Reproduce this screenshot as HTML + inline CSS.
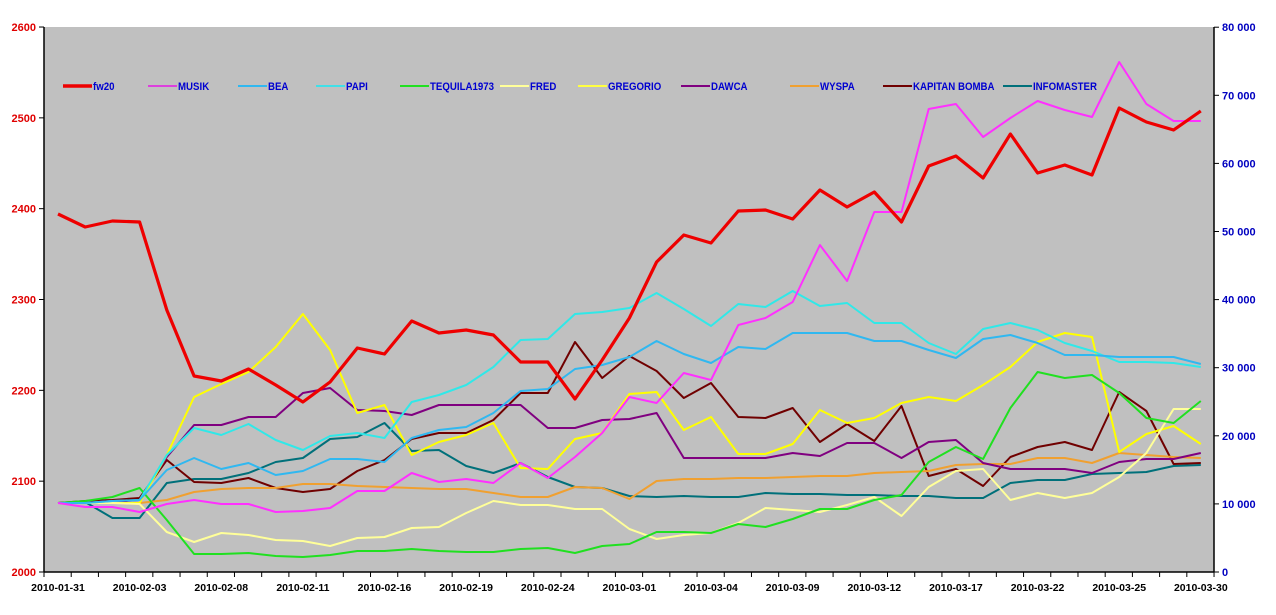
<!DOCTYPE html>
<html><head><meta charset="utf-8"><style>
html,body{margin:0;padding:0;background:#fff;width:1276px;height:615px;overflow:hidden}
svg{display:block;font-family:"Liberation Sans",Arial,sans-serif}
</style></head><body>
<svg id="s" width="1276" height="615" xmlns="http://www.w3.org/2000/svg">
<rect x="44" y="27" width="1170" height="545" fill="#c0c0c0"/>
<g id="g"></g>
</svg>
<script>
const S=document.getElementById('s'),G=document.getElementById('g');
const NS='http://www.w3.org/2000/svg';
function el(t,a,txt){const e=document.createElementNS(NS,t);for(const k in a)e.setAttribute(k,a[k]);if(txt!=null)e.textContent=txt;return e;}
G.appendChild(el('line',{x1:44,y1:27,x2:44,y2:572,stroke:'#000','stroke-width':1.5}));
G.appendChild(el('line',{x1:1214,y1:27,x2:1214,y2:572,stroke:'#000','stroke-width':1.5}));
G.appendChild(el('line',{x1:44,y1:572,x2:1214,y2:572,stroke:'#000','stroke-width':1.5}));
for(let i=0;i<=6;i++){const y=572-i*90.83;G.appendChild(el('line',{x1:39,y1:y,x2:44,y2:y,stroke:'#000'}));
G.appendChild(el('text',{x:36,y:y+4,'text-anchor':'end','font-size':11,'font-weight':'bold',fill:'#e00000'},String(2000+i*100)));}
for(let i=0;i<=8;i++){const y=572-i*68.1;G.appendChild(el('line',{x1:1214,y1:y,x2:1219,y2:y,stroke:'#000'}));
const v=i*10000;const t=v==0?'0':(v/1000)+' 000';
G.appendChild(el('text',{x:1222,y:y+4,'font-size':11,'font-weight':'bold',fill:'#0000c0'},t));}
for(let i=0;i<=43;i++){const x=44+i*27.21;G.appendChild(el('line',{x1:x,y1:572,x2:x,y2:577,stroke:'#000'}));}
const labs=['2010-01-31','2010-02-03','2010-02-08','2010-02-11','2010-02-16','2010-02-19','2010-02-24','2010-03-01','2010-03-04','2010-03-09','2010-03-12','2010-03-17','2010-03-22','2010-03-25','2010-03-30'];
labs.forEach((l,k)=>{const x=58+27.21*3*k;G.appendChild(el('text',{x:x,y:591,'text-anchor':'middle','font-size':10.5,'font-weight':'bold',fill:'#000'},l));});
const D=[
['#00707a',[503,502,518,518,483,479,479,473,462,458,439,437,423,451,450,466,473,463,477,487,488,496,497,496,497,497,493,494,494,495,495,496,496,498,498,483,480,480,474,473,472,466,465],2],
['#700000',[503,501,500,498,460,482,483,478,488,492,489,471,460,439,433,433,420,393,393,342,378,356,371,398,383,417,418,408,442,424,441,406,476,469,486,457,447,442,450,392,411,464,463],2],
['#f0a030',[503,503,503,503,500,492,489,488,488,484,484,486,487,488,489,489,493,497,497,487,488,499,481,479,479,478,478,477,476,476,473,472,471,465,464,464,458,458,463,453,455,457,458],2],
['#800080',[503,503,502,500,457,425,425,417,417,393,388,410,411,415,405,405,405,405,428,428,420,419,413,458,458,458,458,453,456,443,443,458,442,440,463,469,469,469,473,462,459,459,453],2],
['#ffff00',[503,503,503,503,455,397,384,372,347,314,350,413,405,455,442,435,423,468,469,439,433,394,392,430,417,454,454,444,410,423,418,403,397,401,385,367,342,333,337,452,434,426,444],2],
['#ffff99',[503,503,503,504,532,542,533,535,540,541,546,538,537,528,527,513,501,505,505,509,509,529,539,535,533,523,508,510,512,505,497,516,487,471,469,500,493,498,493,477,453,409,409],2],
['#20e020',[503,501,497,488,520,554,554,553,556,557,555,551,551,549,551,552,552,549,548,553,546,544,532,532,533,524,527,519,509,509,500,495,462,447,459,408,372,378,375,393,418,423,401],2],
['#30e8e8',[503,503,501,500,455,428,435,424,440,450,436,433,438,402,395,385,367,340,339,314,312,308,293,309,326,304,307,291,306,303,323,323,343,354,329,323,330,343,351,362,362,363,367],2],
['#30b8f0',[503,503,501,500,470,458,469,463,475,471,459,459,462,438,430,427,413,391,389,369,365,357,341,354,363,347,349,333,333,333,341,341,350,358,339,335,343,355,355,357,357,357,364],2],
['#ff30ff',[503,507,507,512,504,500,504,504,512,511,508,491,491,473,482,479,483,463,478,457,433,397,403,373,380,325,318,302,245,281,212,212,109,104,137,118,101,110,117,62,104,121,121],2],
['#ee0000',[214,227,221,222,310,376,381,369,385,402,382,348,354,321,333,330,335,362,362,399,360,318,262,235,243,211,210,219,190,207,192,222,166,156,178,134,173,165,175,108,122,130,111],3.2]
];
D.forEach(([c,v,w])=>{const p=v.map((y,i)=>(58+27.21*i).toFixed(1)+','+y).join(' ');
G.appendChild(el('polyline',{points:p,fill:'none',stroke:c,'stroke-width':w,'stroke-linejoin':'round'}));});
const L=[['fw20','#ee0000',63,3.5],['MUSIK','#dd40dd',148,2],['BEA','#30b8f0',238,2],['PAPI','#40e0e8',316,2],['TEQUILA1973','#20e020',400,2],['FRED','#ffff99',500,2],['GREGORIO','#ffff40',578,2],['DAWCA','#800080',681,2],['WYSPA','#f0a030',790,2],['KAPITAN BOMBA','#700000',883,2],['INFOMASTER','#00707a',1003,2]];
L.forEach(([n,c,x,w])=>{G.appendChild(el('line',{x1:x,y1:86,x2:x+29,y2:86,stroke:c,'stroke-width':w}));
const t=el('text',{x:x+30,y:90,'font-size':11,'font-weight':'bold',fill:'#0000d0',transform:`translate(${x+30},0) scale(0.88,1) translate(${-(x+30)},0)`},n);G.appendChild(t);});
</script>
</body></html>
